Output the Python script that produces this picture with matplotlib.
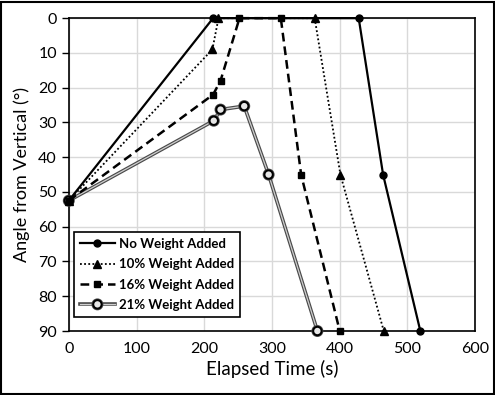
import matplotlib
matplotlib.use("Agg")
import matplotlib.pyplot as plt
import matplotlib.patheffects as pe
from matplotlib.lines import Line2D

plt.rcParams['font.family'] = ['Lato', 'DejaVu Sans']

no_x = [0, 213, 428, 464, 519]
no_y = [52.5, 0, 0, 45, 90]
w10_x = [0, 212, 221, 363, 401, 465]
w10_y = [52.5, 9, 0, 0, 45, 90]
w16_x = [0, 213, 224, 252, 313, 343, 400]
w16_y = [52.5, 22, 18, 0, 0, 45, 90]
w21_x = [0, 214, 224, 259, 295, 367]
w21_y = [52.5, 29.5, 26.3, 25.3, 45, 90]
labels = ['No Weight Added', '10% Weight Added', '16% Weight Added', '21% Weight Added']
xticks = [0, 100, 200, 300, 400, 500, 600]
yticks = [0, 10, 20, 30, 40, 50, 60, 70, 80, 90]

fig = plt.figure(figsize=(4.95, 3.95), dpi=100)
ax = fig.add_axes([0.139, 0.162, 0.821, 0.792])

pe21 = [pe.Stroke(linewidth=2.6, foreground='#4a4a4a'), pe.Normal()]
st_no = dict(color='black', lw=1.6, marker='o', ms=5)
st_10 = dict(color='black', lw=1.3, ls=(0, (1, 1.3)), marker='^', ms=5.5)
st_16 = dict(color='black', lw=1.8, ls=(0, (3.5, 2)), marker='s', ms=5)
st_21 = dict(color='#cfcfcf', lw=0.9, marker='o', ms=6, mfc='#e6e6e6', mec='black', mew=1.4)

ax.plot(no_x, no_y, zorder=5, clip_on=False, **st_no)
ax.plot(w10_x, w10_y, zorder=5, clip_on=False, **st_10)
ax.plot(w16_x, w16_y, zorder=5, clip_on=False, **st_16)
ax.plot(w21_x, w21_y, zorder=4, clip_on=False, path_effects=pe21, **st_21)

ax.set_xlim(0, 600)
ax.set_ylim(90, 0)
ax.set_xticks(xticks)
ax.set_yticks(yticks)
ax.grid(True, color='#d9d9d9', lw=1)
ax.set_axisbelow(True)
for s in ax.spines.values():
    s.set_color('black')
    s.set_linewidth(1.2)
ax.tick_params(axis='both', labelsize=11.5, length=5, width=1, color='black', direction='out')
ax.tick_params(axis='x', length=0, pad=8)
ax.set_xlabel('Elapsed Time (s)', fontsize=13.5, labelpad=3)
ax.set_ylabel('Angle from Vertical (°)', fontsize=13, labelpad=6)

handles = [
    Line2D([], [], **st_no),
    Line2D([], [], **st_10),
    Line2D([], [], **st_16),
    Line2D([], [], path_effects=pe21, **st_21),
]
leg = ax.legend(handles, labels, loc='lower left', bbox_to_anchor=(0.012, 0.045), borderaxespad=0,
                fancybox=False, edgecolor='black', framealpha=1,
                prop={'weight': 'bold', 'size': 9.5},
                handlelength=2.7, handletextpad=0.3, labelspacing=0.63, borderpad=0.45)
leg.get_frame().set_linewidth(1.2)

fig.patches.append(plt.Rectangle((0.002, 0.003), 0.995, 0.993, transform=fig.transFigure,
                                 fill=False, edgecolor='black', lw=1.5))

fig.savefig('out.png', dpi=100)
